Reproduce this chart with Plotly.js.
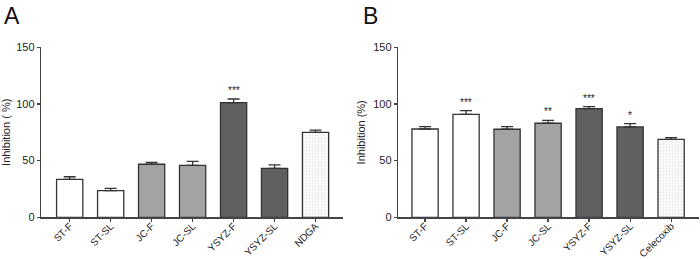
<!DOCTYPE html>
<html>
<head>
<meta charset="utf-8">
<script src="https://cdn.plot.ly/plotly-3.0.1.min.js"></script>
<style>html,body{margin:0;padding:0;background:#fff}#chart{width:700px;height:259px}</style>
</head>
<body>
<div id="chart"></div>
<script>
const catsA = ['ST-F','ST-SL','JC-F','JC-SL','YSYZ-F','YSYZ-SL','NDGA'];
const valsA = [33.5, 23.5, 46.8, 45.9, 101.1, 43.2, 75.0];
const errA  = [2.3, 2.1, 1.7, 3.5, 3.3, 3.0, 2.0];
const sigA  = ['', '', '', '', '***', '', ''];

const catsB = ['ST-F','ST-SL','JC-F','JC-SL','YSYZ-F','YSYZ-SL','Celecoxib'];
const valsB = [77.9, 90.9, 77.7, 83.0, 95.9, 79.7, 68.8];
const errB  = [2.1, 3.2, 2.3, 2.6, 1.7, 2.9, 1.5];
const sigB  = ['', '***', '', '**', '***', '*', ''];

const yTicks = [0, 50, 100, 150];

const fills = ['#ffffff','#ffffff','#a3a3a3','#a3a3a3','#606060','#606060','#e6e6e6'];
const patterns = ['','','','','','','.'];
const edge = '#333333';
const font = 'Liberation Sans, Arial, sans-serif';

function barTrace(cats, vals, errs, xa, ya) {
  return {
    type: 'bar', x: cats, y: vals, xaxis: xa, yaxis: ya,
    width: 0.64,
    marker: {
      color: fills,
      line: {color: edge, width: 1.3},
      pattern: {shape: patterns, fgcolor: '#bcbcbc', bgcolor: '#e8e8e8', size: 3, solidity: 0.4}
    },
    error_y: {type: 'data', symmetric: false, array: errs, arrayminus: errs.map(() => 0),
              color: edge, thickness: 1.3, width: 6},
    showlegend: false, hoverinfo: 'skip'
  };
}

function starAnns(cats, vals, errs, sigs, xa, ya) {
  const out = [];
  cats.forEach((c, i) => {
    if (sigs[i]) out.push({x: c, y: vals[i] + errs[i], xref: xa, yref: ya, text: sigs[i],
      showarrow: false, yanchor: 'bottom', yshift: 1, font: {family: font, size: 10, color: '#222'}});
  });
  return out;
}

const xCommon = {type: 'category', showline: true, linecolor: '#444', linewidth: 1.2,
  ticks: 'outside', ticklen: 3, tickcolor: '#444', tickwidth: 1.2, tickangle: -45,
  ticklabelstandoff: -5,
  tickfont: {family: font, size: 10, color: '#222'}, showgrid: false, zeroline: false,
  range: [-0.7, 6.67]};
const yCommon = {range: [0, 150], tickvals: yTicks, ticktext: yTicks.map(String),
  showline: true, linecolor: '#444', linewidth: 1.2, ticks: 'outside', ticklen: 3,
  tickcolor: '#444', tickwidth: 1.2, tickfont: {family: font, size: 11, color: '#222'},
  showgrid: false, zeroline: false};

const yDom = [(259 - 217.3) / 259, (259 - 47.3) / 259];

const layout = {
  width: 700, height: 259, margin: {l: 0, r: 0, t: 0, b: 0},
  paper_bgcolor: '#fff', plot_bgcolor: '#fff',
  xaxis: Object.assign({}, xCommon, {domain: [41 / 700, 343 / 700], anchor: 'y'}),
  yaxis: Object.assign({}, yCommon, {domain: yDom, anchor: 'x',
    title: {text: 'Inhibition ( %)', font: {family: font, size: 11, color: '#222'}, standoff: 3}}),
  xaxis2: Object.assign({}, xCommon, {domain: [398 / 700, 699 / 700], anchor: 'y2', range: [-0.66, 6.68]}),
  yaxis2: Object.assign({}, yCommon, {domain: yDom, anchor: 'x2',
    title: {text: 'Inhibition (%)', font: {family: font, size: 11, color: '#222'}, standoff: 5}}),
  annotations: [
    {text: 'A', xref: 'paper', yref: 'paper', x: 2 / 700, y: 1 - 1 / 259, xanchor: 'left', yanchor: 'top',
     showarrow: false, font: {family: font, size: 23, color: '#111'}},
    {text: 'B', xref: 'paper', yref: 'paper', x: 361 / 700, y: 1 - 1 / 259, xanchor: 'left', yanchor: 'top',
     showarrow: false, font: {family: font, size: 23, color: '#111'}}
  ].concat(starAnns(catsA, valsA, errA, sigA, 'x', 'y'))
   .concat(starAnns(catsB, valsB, errB, sigB, 'x2', 'y2'))
};

Plotly.newPlot('chart', [barTrace(catsA, valsA, errA, 'x', 'y'), barTrace(catsB, valsB, errB, 'x2', 'y2')],
  layout, {staticPlot: true, displayModeBar: false});
</script>
</body>
</html>
